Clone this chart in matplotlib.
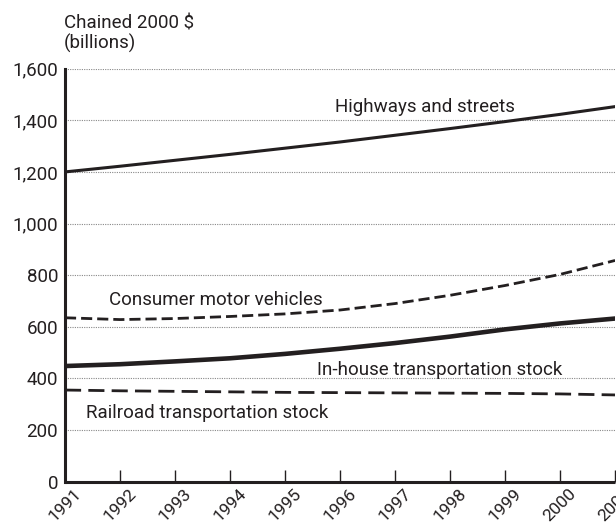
import numpy as np
import matplotlib.pyplot as plt
from matplotlib.ticker import FuncFormatter

years = np.arange(1991, 2002)

# values (chained 2000 $, billions)
highways = [1200, 1222, 1245, 1268, 1292, 1316, 1342, 1368, 1395, 1423, 1453]
consumer = [635, 628, 632, 640, 650, 665, 690, 722, 760, 803, 857]
inhouse = [448, 455, 466, 478, 495, 515, 537, 562, 590, 613, 632]
railroad = [355, 352, 350, 348, 346, 345, 344, 343, 342, 340, 336]

year_labels = [str(y) for y in years]
yticks = [0, 200, 400, 600, 800, 1000, 1200, 1400, 1600]

plt.rcParams['font.family'] = ['Roboto', 'DejaVu Sans']
ink = '#231f20'

fig = plt.figure(figsize=(6.16, 5.27), dpi=100)
ax = fig.add_axes([0.1055, 0.086, 0.893, 0.7837])

# dotted grid
for v in yticks[1:]:
    ax.axhline(v, color='#888888', lw=0.8, ls=(0, (1, 1.1)), zorder=1)

ax.plot(years, highways, color=ink, lw=2.2, zorder=3)
ax.plot(years, consumer, color=ink, lw=2.0, ls=(0, (4, 1.8)), zorder=3)
ax.plot(years, inhouse, color=ink, lw=3.3, zorder=3)
ax.plot(years, railroad, color=ink, lw=2.0, ls=(0, (5.8, 2.6)), zorder=3)

ax.set_xlim(1991, 2001)
ax.set_ylim(0, 1600)
ax.set_yticks(yticks)
ax.yaxis.set_major_formatter(FuncFormatter(lambda v, p: f'{int(v):,}'))
ax.set_xticks(years)
ax.set_xticklabels(year_labels, rotation=45, ha='center', va='top')

for s in ['top', 'right']:
    ax.spines[s].set_visible(False)
for s in ['left', 'bottom']:
    ax.spines[s].set_linewidth(2.2)
    ax.spines[s].set_color(ink)
ax.spines['bottom'].set_capstyle('butt')

ax.tick_params(axis='y', length=0, labelsize=13.5, pad=5, labelcolor=ink)
ax.tick_params(axis='x', direction='in', length=8.5, width=1, color=ink,
               labelsize=12.5, pad=3, labelcolor=ink)

fs = 13.5
ax.text(1995.9, 1431, 'Highways and streets', fontsize=fs, color=ink)
ax.text(1991.8, 683, 'Consumer motor vehicles', fontsize=fs, color=ink)
ax.text(1995.58, 413, 'In-house transportation stock', fontsize=fs, color=ink)
ax.text(1991.39, 246, 'Railroad transportation stock', fontsize=fs, color=ink)

fig.text(0.104, 1 - 29 / 527, 'Chained 2000 \\$', fontsize=fs, color=ink,
         va='baseline', ha='left')
fig.text(0.104, 1 - 49 / 527, '(billions)', fontsize=fs, color=ink,
         va='baseline', ha='left')

fig.savefig('out.png', dpi=100)
